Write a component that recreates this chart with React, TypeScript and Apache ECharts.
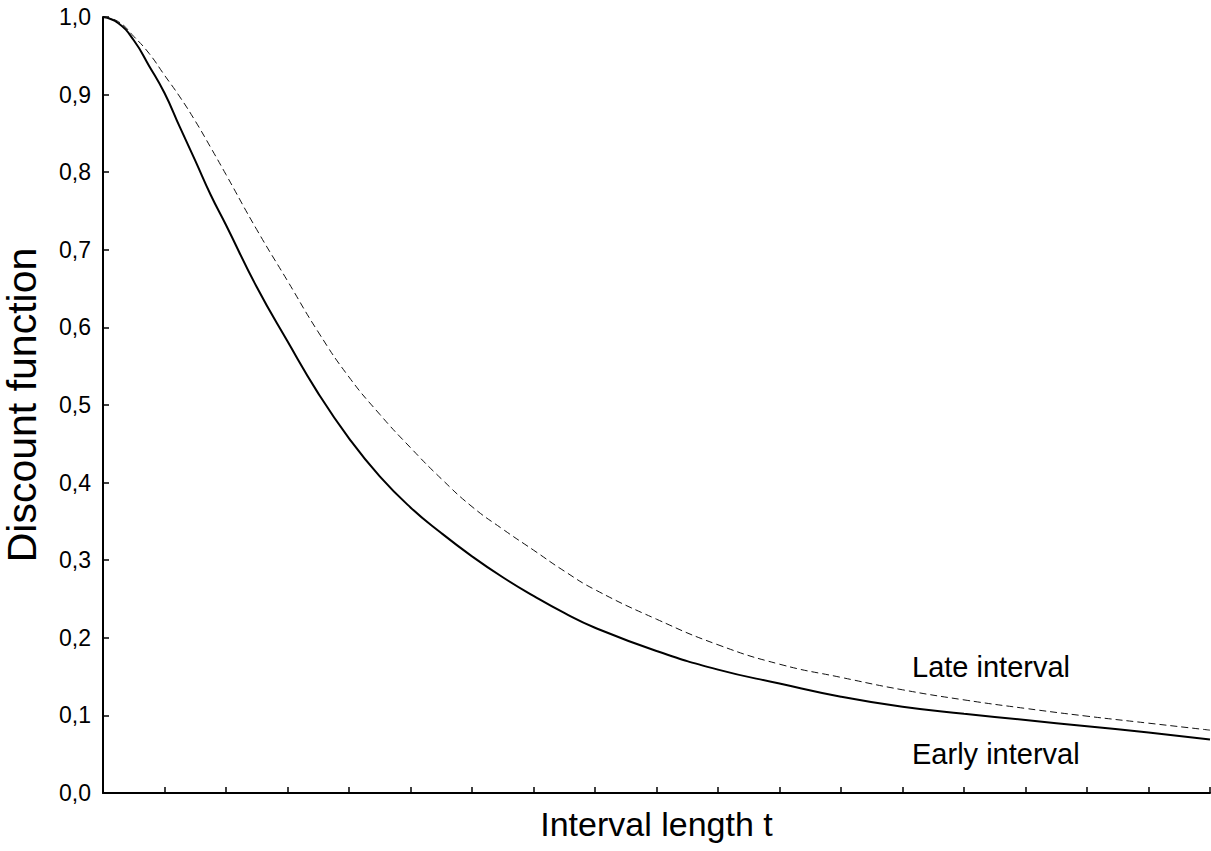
import React, { useEffect, useRef } from "react";
import * as echarts from "echarts";

const tValues = [0, 0.25, 0.5, 0.75, 1, 1.25, 1.5, 1.75, 2, 2.5, 3, 3.5, 4, 4.5, 5, 5.5, 6, 6.5, 7, 7.5, 8, 9, 10, 11, 12, 13, 14, 15, 16, 17, 18];
const earlyValues = [1.0, 0.992, 0.97, 0.937, 0.902, 0.858, 0.815, 0.771, 0.732, 0.652, 0.582, 0.515, 0.457, 0.408, 0.368, 0.335, 0.305, 0.278, 0.254, 0.232, 0.213, 0.183, 0.159, 0.141, 0.124, 0.111, 0.102, 0.094, 0.086, 0.078, 0.069];
const lateValues = [1.0, 0.994, 0.975, 0.953, 0.925, 0.897, 0.866, 0.832, 0.797, 0.726, 0.66, 0.594, 0.536, 0.488, 0.445, 0.405, 0.369, 0.34, 0.313, 0.286, 0.262, 0.224, 0.191, 0.166, 0.149, 0.133, 0.12, 0.109, 0.099, 0.09, 0.081];
const seriesNames = ["Early interval", "Late interval"];
const xTitle = "Interval length t";
const yTitle = "Discount function";

const FONT = "'Liberation Sans', Arial, sans-serif";

export default function App() {
  const ref = useRef<HTMLDivElement>(null);
  useEffect(() => {
    if (!ref.current) return;
    const chart = echarts.init(ref.current, undefined, { renderer: "svg" });
    const early = tValues.map((t, i) => [t, earlyValues[i]]);
    const late = tValues.map((t, i) => [t, lateValues[i]]);
    chart.setOption({
      animation: false,
      backgroundColor: "#ffffff",
      grid: { left: 103, right: 1, top: 17, bottom: 58, containLabel: false, outerBoundsMode: "none" },
      xAxis: {
        type: "value",
        min: 0,
        max: 18,
        interval: 1,
        name: xTitle,
        nameLocation: "middle",
        nameGap: 14,
        nameTextStyle: { fontFamily: FONT, fontSize: 34, color: "#000" },
        axisLine: { show: true, onZero: false, lineStyle: { color: "#000", width: 2 } },
        axisTick: { show: true, inside: true, length: 6, lineStyle: { color: "#000", width: 1.5 } },
        axisLabel: { show: false },
        splitLine: { show: false },
      },
      yAxis: {
        type: "value",
        min: 0,
        max: 1,
        interval: 0.1,
        name: yTitle,
        nameLocation: "middle",
        nameGap: 61,
        nameRotate: 90,
        nameTextStyle: { fontFamily: FONT, fontSize: 41, color: "#000" },
        axisLine: { show: true, lineStyle: { color: "#000", width: 2 } },
        axisTick: { show: true, inside: true, length: 6, lineStyle: { color: "#000", width: 1.5 } },
        axisLabel: {
          fontFamily: FONT,
          fontSize: 23,
          color: "#000",
          margin: 12,
          formatter: (v: number) => v.toFixed(1).replace(".", ","),
        },
        splitLine: { show: false },
      },
      series: [
        {
          name: seriesNames[0],
          type: "line",
          data: early,
          showSymbol: false,
          smooth: true,
          lineStyle: { color: "#000", width: 2 },
        },
        {
          name: seriesNames[1],
          type: "line",
          data: late,
          showSymbol: false,
          smooth: true,
          lineStyle: { color: "#111", width: 1, type: [7, 4] },
        },
      ],
      graphic: [
        {
          type: "text",
          left: 912,
          top: 652,
          style: { text: seriesNames[1], font: `29px ${FONT}`, fill: "#000" },
        },
        {
          type: "text",
          left: 912,
          top: 739,
          style: { text: seriesNames[0], font: `29px ${FONT}`, fill: "#000" },
        },
      ],
    });
    return () => chart.dispose();
  }, []);
  return (
    <div
      ref={ref}
      style={{ position: "fixed", left: 0, top: 0, width: 1211, height: 851, background: "#fff" }}
    />
  );
}
